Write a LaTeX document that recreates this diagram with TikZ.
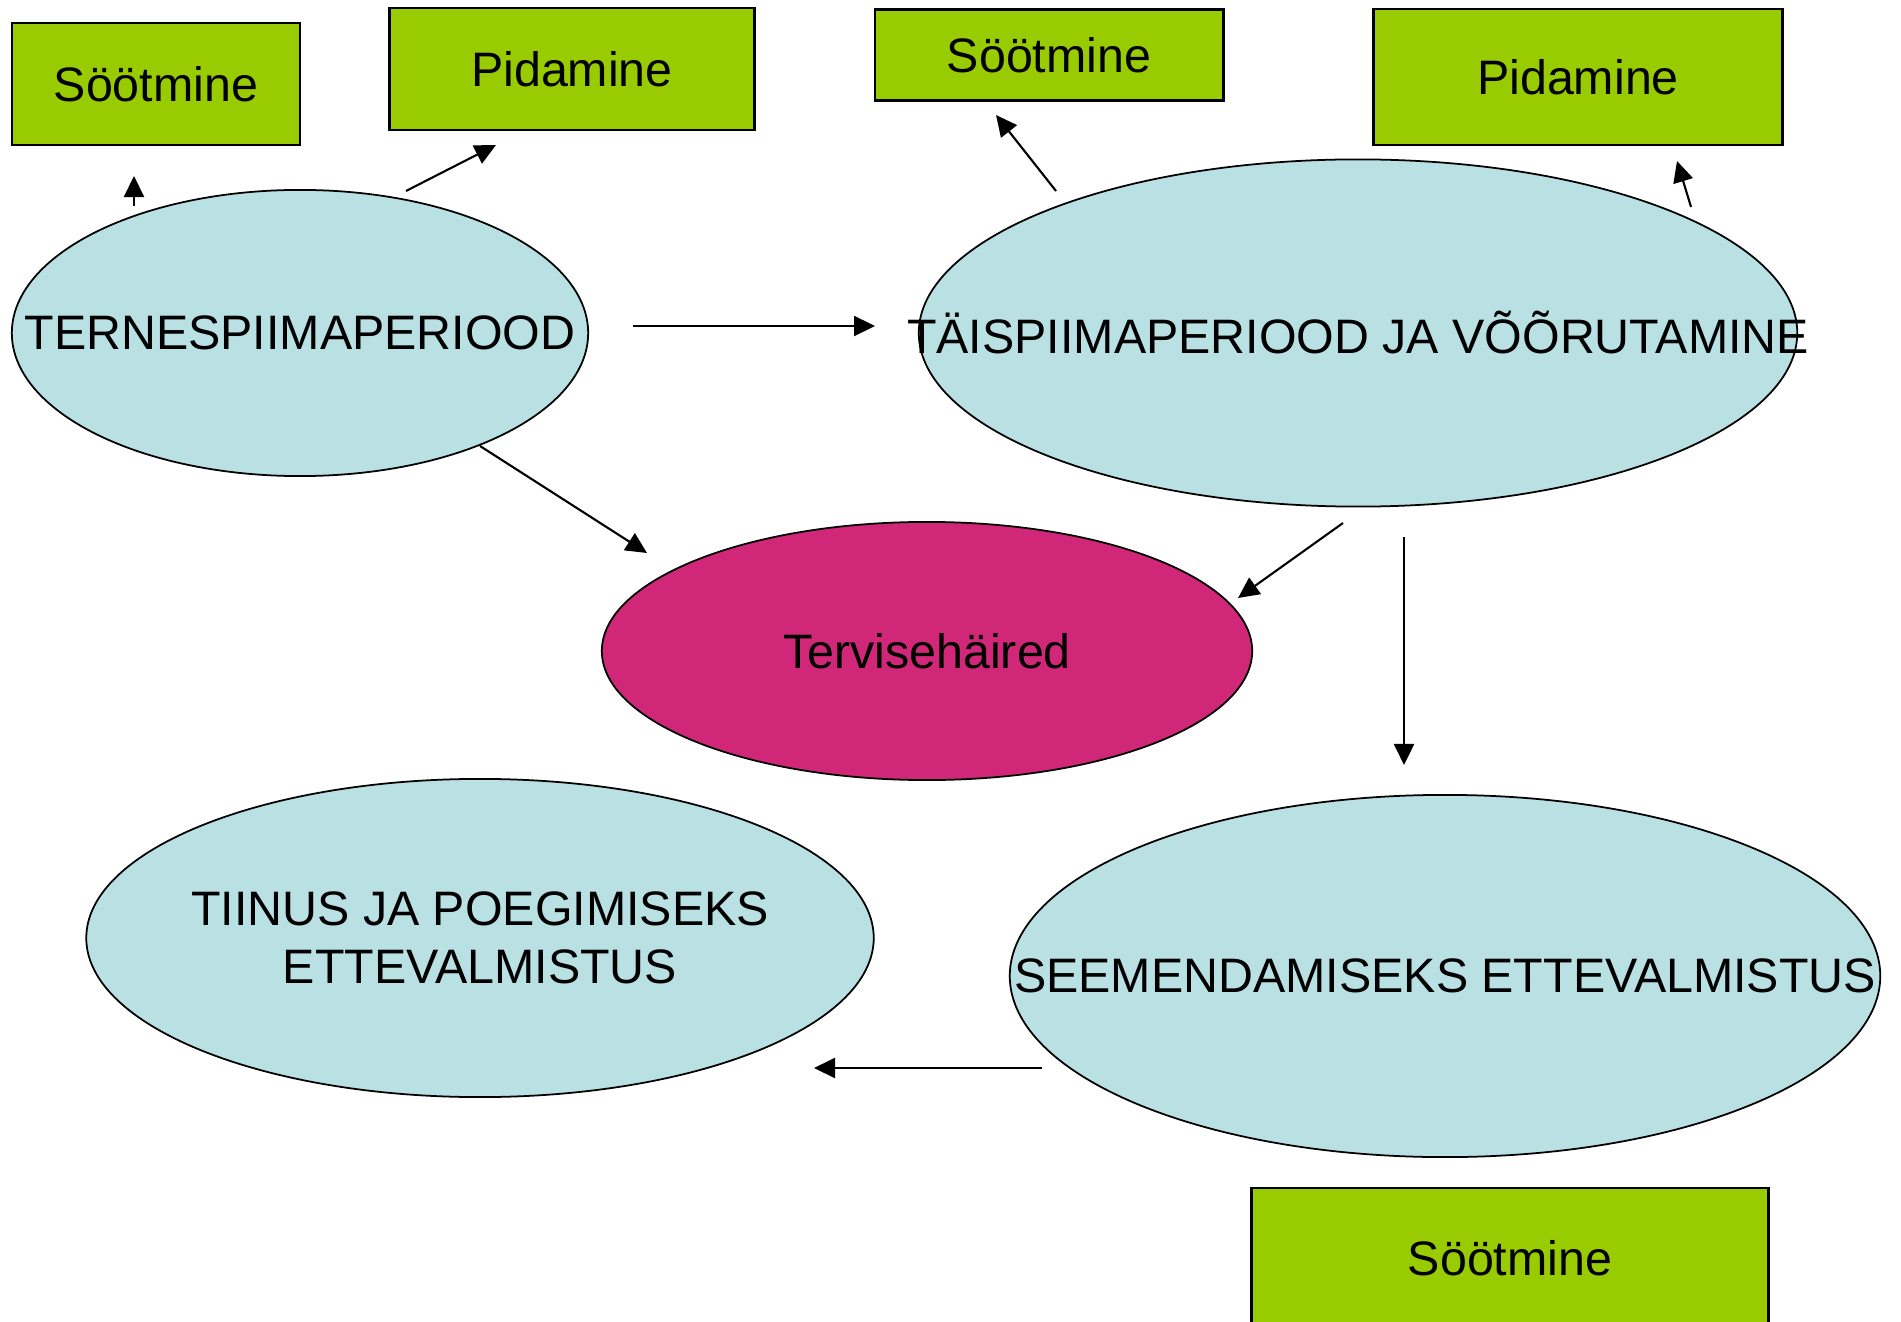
\documentclass[tikz,border=0pt]{standalone}
\usepackage{fontspec}
\setmainfont{Liberation Sans}
\usepackage{tikz}
\usetikzlibrary{shapes.geometric,arrows.meta}
\pgfdeclarelayer{edgelayer}
\pgfdeclarelayer{nodelayer}
\pgfsetlayers{edgelayer,nodelayer,main}
\definecolor{taskgreen}{HTML}{99CC00}
\definecolor{phaseblue}{HTML}{B9E0E3}
\definecolor{illred}{HTML}{D02778}
\tikzstyle{edge}=[draw=black, line width=0.6pt, -{Triangle[length=0.21cm,width=0.2cm]}]
\tikzstyle{task}=[rectangle, fill=taskgreen, draw=black, line width=0.8pt, inner sep=0pt]
\tikzstyle{phase}=[ellipse, fill=phaseblue, draw=black, line width=0.5pt, inner sep=0pt]
\tikzstyle{ill}=[ellipse, fill=illred, draw=black, line width=0.5pt, inner sep=0pt]

\begin{document}
\begin{tikzpicture}[x=0.01cm, y=-0.01cm, font=\fontsize{13.75}{16.3}\selectfont]
				\useasboundingbox (0, 0) rectangle (1901, 1322);
				\begin{pgfonlayer}{nodelayer}
					\node [style=task, minimum width=2.88cm, minimum height=1.22cm] (0) at (156, 84) {Söötmine};
					\node [style=task, minimum width=3.64cm, minimum height=1.22cm] (1) at (572, 69) {Pidamine};
					\node [style=task, minimum width=3.48cm, minimum height=0.91cm] (2) at (1049, 55) {Söötmine};
					\node [style=task, minimum width=4.09cm, minimum height=1.36cm] (3) at (1578, 77) {Pidamine};
					\node [style=phase, minimum width=5.76cm, minimum height=2.86cm, label=center:TERNESPIIMAPERIOOD] (4) at (300, 333) {};
					\node [style=phase, minimum width=8.78cm, minimum height=3.47cm, label=center:TÄISPIIMAPERIOOD JA VÕÕRUTAMINE] (5) at (1358, 333) {};
					\node [style=ill, minimum width=6.50cm, minimum height=2.58cm, label=center:Tervisehäired] (6) at (927, 651) {};
					\node [style=phase, minimum width=7.87cm, minimum height=3.18cm, label={[align=center]center:TIINUS JA POEGIMISEKS\\ETTEVALMISTUS}] (7) at (480, 938) {};
					\node [style=phase, minimum width=8.70cm, minimum height=3.62cm, label=center:SEEMENDAMISEKS ETTEVALMISTUS] (8) at (1445, 976) {};
					\node [style=task, minimum width=5.16cm, minimum height=1.40cm] (9) at (1510, 1258) {Söötmine};
				\end{pgfonlayer}
				\coordinate (10) at (134, 206);
				\coordinate (11) at (134, 176);
				\coordinate (12) at (406, 191);
				\coordinate (13) at (496, 145);
				\coordinate (14) at (633, 326);
				\coordinate (15) at (875, 326);
				\coordinate (16) at (1056, 191);
				\coordinate (17) at (996, 115);
				\coordinate (18) at (1691, 207);
				\coordinate (19) at (1677, 161);
				\coordinate (20) at (480, 446);
				\coordinate (21) at (647, 553);
				\coordinate (22) at (1343, 523);
				\coordinate (23) at (1238, 598);
				\coordinate (24) at (1404, 537);
				\coordinate (25) at (1404, 765);
				\coordinate (26) at (1042, 1068);
				\coordinate (27) at (814, 1068);
				\begin{pgfonlayer}{edgelayer}
					\draw [style=edge] (10) to (11);
					\draw [style=edge] (12) to (13);
					\draw [style=edge] (14) to (15);
					\draw [style=edge] (16) to (17);
					\draw [style=edge] (18) to (19);
					\draw [style=edge] (20) to (21);
					\draw [style=edge] (22) to (23);
					\draw [style=edge] (24) to (25);
					\draw [style=edge] (26) to (27);
				\end{pgfonlayer}
			\end{tikzpicture}
\end{document}
